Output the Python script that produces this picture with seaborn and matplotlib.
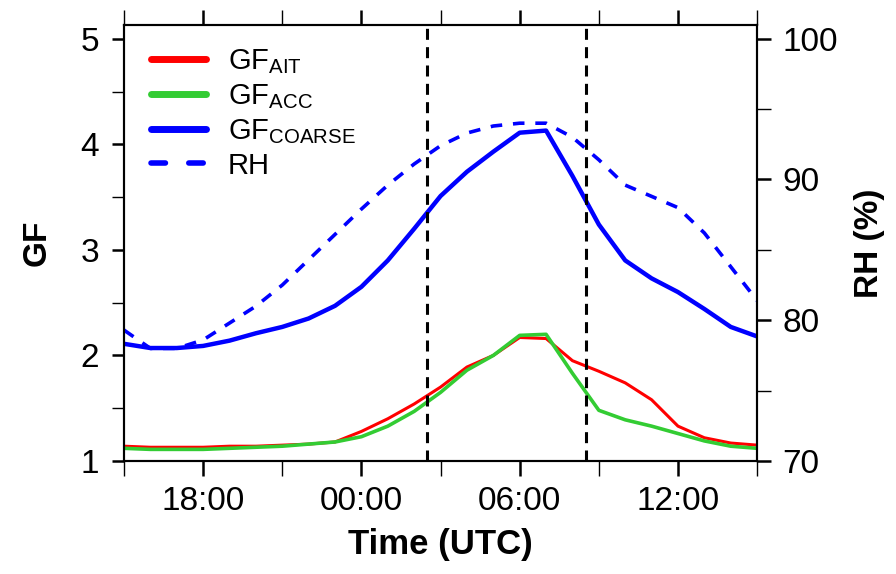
import pandas as pd
import numpy as np
import matplotlib
matplotlib.use("Agg")
import matplotlib.pyplot as plt
import matplotlib.dates as mdates
from matplotlib.lines import Line2D
from matplotlib.ticker import MultipleLocator
import seaborn as sns

# --- data (hourly, 15:00 UTC to 15:00 UTC next day) ---
times = pd.date_range("2013-07-01 15:00", "2013-07-02 15:00", freq="h")

gf_ait = [1.14, 1.13, 1.13, 1.13, 1.14, 1.14, 1.15, 1.16, 1.18, 1.28,
          1.40, 1.54, 1.70, 1.89, 2.00, 2.17, 2.16, 1.95, 1.85, 1.74,
          1.58, 1.33, 1.22, 1.17, 1.15]
gf_acc = [1.12, 1.11, 1.11, 1.11, 1.12, 1.13, 1.14, 1.16, 1.18, 1.23,
          1.33, 1.47, 1.65, 1.86, 2.00, 2.19, 2.20, 1.83, 1.48, 1.39,
          1.33, 1.26, 1.19, 1.14, 1.12]
gf_coarse = [2.11, 2.07, 2.07, 2.09, 2.14, 2.21, 2.27, 2.35, 2.47, 2.65,
             2.90, 3.20, 3.51, 3.74, 3.93, 4.11, 4.13, 3.70, 3.24, 2.90,
             2.73, 2.60, 2.44, 2.27, 2.18]
rh = [79.3, 78.0, 78.0, 78.6, 79.8, 81.0, 82.5, 84.3, 86.1, 87.9,
      89.6, 91.1, 92.4, 93.3, 93.8, 94.0, 94.0, 93.0, 91.4, 89.6,
      88.8, 88.0, 86.2, 83.8, 81.4]

period_marks = ["2013-07-02 02:30", "2013-07-02 08:30"]

# --- style ---
sns.set_style("ticks")
plt.rcParams.update({
    "font.family": ["Liberation Sans", "DejaVu Sans"],
    "mathtext.fontset": "custom",
    "mathtext.rm": "Liberation Sans",
    "mathtext.it": "Liberation Sans",
    "axes.linewidth": 1.5,
    "text.color": "black",
    "axes.labelcolor": "black",
    "xtick.color": "black",
    "ytick.color": "black",
    "axes.edgecolor": "black",
})

fig = plt.figure(figsize=(8.96, 5.74), dpi=100)
ax = fig.add_axes([0.1384, 0.1969, 0.845 - 0.1384, 0.9564 - 0.1969])
ax2 = ax.twinx()

sns.lineplot(x=times, y=gf_ait, color="#FF0000", lw=2.2, ax=ax)
sns.lineplot(x=times, y=gf_acc, color="#33CC33", lw=2.6, ax=ax)
sns.lineplot(x=times, y=gf_coarse, color="#0000FF", lw=3.2, ax=ax)
sns.lineplot(x=times, y=rh, color="#0000FF", lw=2.6, ls=(0, (3.2, 3.0)), ax=ax2)

for t in period_marks:
    ax.axvline(pd.Timestamp(t), color="black", lw=2.2, ls=(0, (3.6, 2.4)))

ax.set_xlim(times[0], times[-1])
ax.set_ylim(1, 5.13)
ax2.set_ylim(70, 70 + 4.13 * 7.5)

ax.xaxis.set_major_locator(mdates.HourLocator(byhour=[0, 6, 12, 18]))
ax.xaxis.set_minor_locator(mdates.HourLocator(byhour=[3, 9, 15, 21]))
ax.xaxis.set_major_formatter(mdates.DateFormatter("%H:%M"))
ax.yaxis.set_major_locator(MultipleLocator(1))
ax.yaxis.set_minor_locator(MultipleLocator(0.5))
ax2.yaxis.set_major_locator(MultipleLocator(10))
ax2.yaxis.set_minor_locator(MultipleLocator(5))

ax.tick_params(axis="x", which="both", top=True, direction="out", labelsize=24,
               length=11, pad=7)
ax.tick_params(axis="x", which="major", width=1.8)
ax.tick_params(axis="x", which="minor", width=1.0)
ax.tick_params(axis="y", which="both", direction="out", labelsize=24, length=9, pad=9)
ax.tick_params(axis="y", which="major", width=1.8)
ax.tick_params(axis="y", which="minor", width=1.0)
ax2.tick_params(axis="y", which="both", direction="out", labelsize=24, length=10, pad=8)
ax2.tick_params(axis="y", which="major", width=1.8)
ax2.tick_params(axis="y", which="minor", width=1.0)

ax.set_xlabel("Time (UTC)", fontsize=25, fontweight="bold", labelpad=8)
ax.set_ylabel("GF", fontsize=24, fontweight="bold", labelpad=20)
ax2.set_ylabel("RH (%)", fontsize=24, fontweight="bold", labelpad=12)

for a in (ax, ax2):
    for s in a.spines.values():
        s.set_visible(True)
        s.set_color("black")
        s.set_linewidth(1.5)

handles = [
    Line2D([], [], color="#FF0000", lw=5, solid_capstyle="round"),
    Line2D([], [], color="#33CC33", lw=5, solid_capstyle="round"),
    Line2D([], [], color="#0000FF", lw=5, solid_capstyle="round"),
    Line2D([], [], color="#0000FF", lw=4, ls=(0, (2.6, 4.2)), dash_capstyle="round"),
]
labels = [r"GF$_{\mathrm{AIT}}$", r"GF$_{\mathrm{ACC}}$",
          r"GF$_{\mathrm{COARSE}}$", "RH"]
ax2.legend(handles, labels, loc="upper left", frameon=False, fontsize=21,
           handlelength=1.9, handletextpad=0.75, labelspacing=0.2,
           borderaxespad=0.3, bbox_to_anchor=(0.01, 0.995))

fig.savefig("out.png", dpi=100)
